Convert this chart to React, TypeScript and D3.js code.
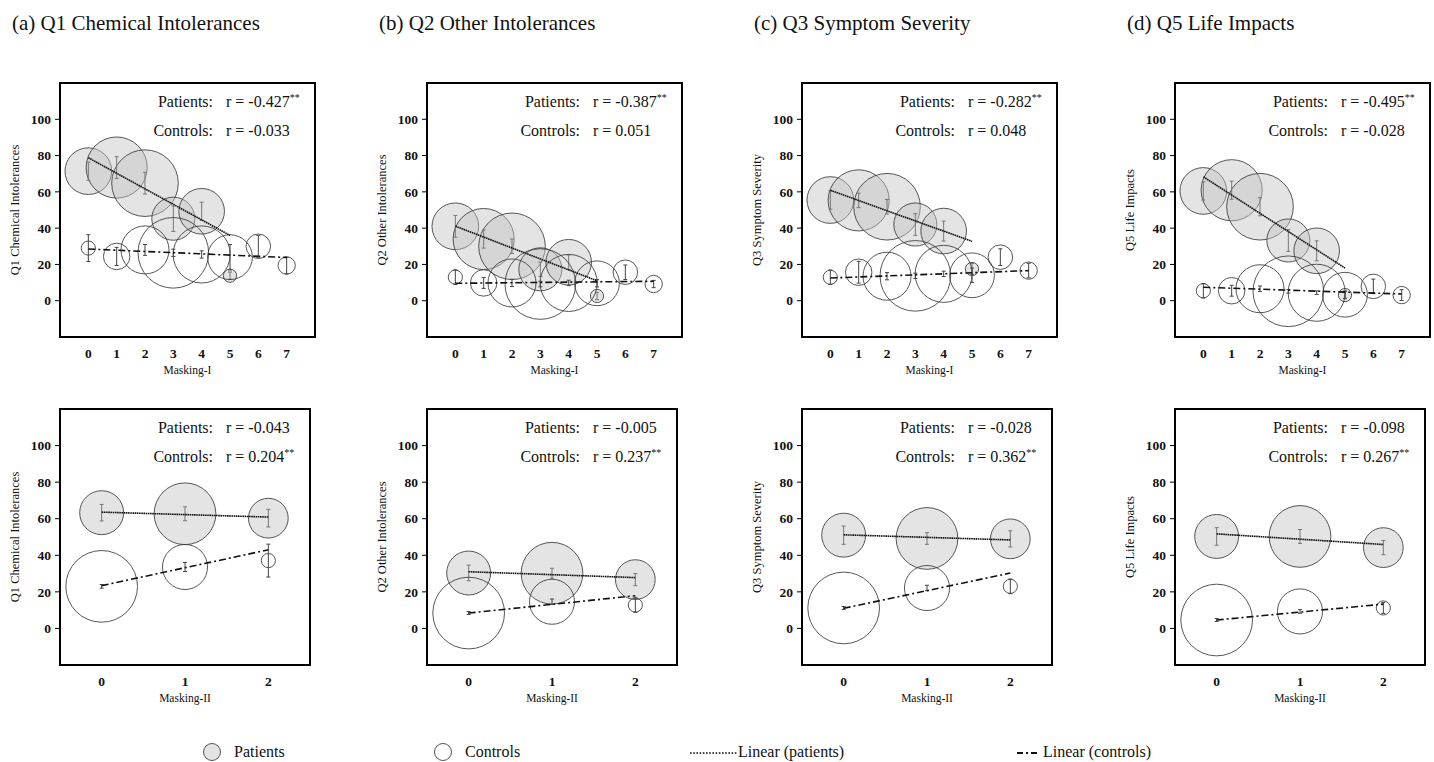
import * as d3 from "d3";

const FONT = "'Liberation Serif', 'DejaVu Serif', serif";

// axis ticks
const maskingITicks = [0, 1, 2, 3, 4, 5, 6, 7];
const maskingIITicks = [0, 1, 2];
const yTicks = [0, 20, 40, 60, 80, 100];

// group levels
const patientLevelsI = [0, 1, 2, 3, 4, 5];
const controlLevelsI = [0, 1, 2, 3, 4, 5, 6, 7];
const levelsII = [0, 1, 2];

// relative group sizes (bubble area)
const patientSizeI = [87, 149, 177, 74, 83, 7];
const controlSizeI = [8, 28, 92, 199, 130, 80, 24, 12];
const patientSizeII = [77, 152, 63];
const controlSizeII = [205, 81, 8];

const titles = ["(a) Q1 Chemical Intolerances", "(b) Q2 Other Intolerances", "(c) Q3 Symptom Severity", "(d) Q5 Life Impacts"];
const yLabels = ["Q1 Chemical Intolerances", "Q2 Other Intolerances", "Q3 Symptom Severity", "Q5 Life Impacts"];

// Masking-I means / error half-widths
const q1PatMeanI = [71.4, 73.4, 64.8, 45.2, 49.3, 13.8];
const q1PatErrI = [5, 6, 6, 7, 5, 2];
const q1CtlMeanI = [29, 24.4, 28, 26.4, 25.5, 24, 30, 19.4];
const q1CtlErrI = [7.4, 5, 3, 2, 2, 7, 6, 4.6];
const q2PatMeanI = [41, 34, 30, 17.3, 21.2, 2.6];
const q2PatErrI = [6, 5, 4, 4, 4, 2];
const q2CtlMeanI = [13, 9.8, 9.8, 9.2, 9.8, 9.6, 15.7, 9.2];
const q2CtlErrI = [4, 3, 2, 1.5, 1.5, 2, 4, 2];
const q3PatMeanI = [55.5, 55.3, 51.8, 42, 38.4, 17.5];
const q3PatErrI = [5, 4, 4, 6, 5.5, 3];
const q3CtlMeanI = [12.9, 15.7, 13.5, 13.7, 14.8, 14, 24, 16.6];
const q3CtlErrI = [4, 6, 2, 1.5, 1.5, 4, 4.6, 4];
const q5PatMeanI = [60.5, 60.9, 51.8, 33.2, 27.5, 3.1];
const q5PatErrI = [5, 5, 5, 6, 5.5, 2];
const q5CtlMeanI = [5.5, 5.5, 6.6, 5.2, 4.4, 3.3, 7.9, 3.1];
const q5CtlErrI = [4, 3, 1.5, 1, 1, 2, 4, 3];

// Masking-II means / error half-widths
const q1PatMeanII = [63.3, 62.7, 60.3];
const q1PatErrII = [4.5, 3.8, 4.8];
const q1CtlMeanII = [23, 33.6, 37.1];
const q1CtlErrII = [1, 2.5, 9];
const q2PatMeanII = [30.3, 30.2, 26.7];
const q2PatErrII = [4.3, 2.7, 3.3];
const q2CtlMeanII = [8.4, 14.6, 12.8];
const q2CtlErrII = [0.8, 1.5, 4];
const q3PatMeanII = [51, 49.2, 49];
const q3PatErrII = [5, 3.2, 4.4];
const q3CtlMeanII = [11.2, 22.1, 23];
const q3CtlErrII = [0.8, 1.5, 4];
const q5PatMeanII = [50.3, 50.3, 44.2];
const q5PatErrII = [4.8, 3.8, 3.9];
const q5CtlMeanII = [4.6, 9.3, 11.2];
const q5CtlErrII = [0.8, 1, 3];

// linear trend endpoints (value at first and last level)
const patTrendI = [[78.8, 36.0], [41.1, 11], [60.9, 32.7], [68.3, 18]];
const ctlTrendI = [[28.5, 23.8], [9.6, 10.7], [12.5, 16.6], [7.4, 3.7]];
const patTrendII = [[63.6, 60.9], [31, 27.8], [51.2, 48.4], [51.7, 45.9]];
const ctlTrendII = [[23.4, 43], [8.4, 17.9], [11, 30.3], [4.6, 13.3]];

// correlation annotations
const rPatI = ["-0.427", "-0.387", "-0.282", "-0.495"];
const sigPatI = [true, true, true, true];
const rCtlI = ["-0.033", "0.051", "0.048", "-0.028"];
const sigCtlI = [false, false, false, false];
const rPatII = ["-0.043", "-0.005", "-0.028", "-0.098"];
const sigPatII = [false, false, false, false];
const rCtlII = ["0.204", "0.237", "0.362", "0.267"];
const sigCtlII = [true, true, true, true];

const patMeansI = [q1PatMeanI, q2PatMeanI, q3PatMeanI, q5PatMeanI];
const patErrsI = [q1PatErrI, q2PatErrI, q3PatErrI, q5PatErrI];
const ctlMeansI = [q1CtlMeanI, q2CtlMeanI, q3CtlMeanI, q5CtlMeanI];
const ctlErrsI = [q1CtlErrI, q2CtlErrI, q3CtlErrI, q5CtlErrI];
const patMeansII = [q1PatMeanII, q2PatMeanII, q3PatMeanII, q5PatMeanII];
const patErrsII = [q1PatErrII, q2PatErrII, q3PatErrII, q5PatErrII];
const ctlMeansII = [q1CtlMeanII, q2CtlMeanII, q3CtlMeanII, q5CtlMeanII];
const ctlErrsII = [q1CtlErrII, q2CtlErrII, q3CtlErrII, q5CtlErrII];

const panelLefts = [60, 427, 802, 1175];

const sizeScale = d3.scaleSqrt().domain([0, 200]).range([0, 35.4]);

const PAT_FILL = "rgba(195,195,195,0.45)";
const STROKE = "#3a3a3a";

interface Group {
  levels: number[];
  mean: number[];
  err: number[];
  size: number[];
  trend: number[];
}

interface PanelProps {
  id: string;
  left: number;
  top: number;
  w: number;
  h: number;
  xDomain: [number, number];
  xTicks: number[];
  xLabel: string;
  yLabel: string;
  pat: Group;
  ctl: Group;
  rP: string;
  rC: string;
  sP: boolean;
  sC: boolean;
}

function Bubbles({ g, x, y, filled }: { g: Group; x: any; y: any; filled: boolean }) {
  return (
    <g>
      {g.levels.map((lv, i) => (
        <circle
          key={"c" + i}
          cx={x(lv)}
          cy={y(g.mean[i])}
          r={sizeScale(g.size[i])}
          fill={filled ? PAT_FILL : "none"}
          stroke={STROKE}
          strokeOpacity={0.85}
          strokeWidth={1}
        />
      ))}
      {g.levels.map((lv, i) => {
        const cx = x(lv);
        const y1 = y(g.mean[i] - g.err[i]);
        const y2 = y(g.mean[i] + g.err[i]);
        return (
          <g key={"e" + i} stroke={filled ? "#777" : "#444"} strokeWidth={1}>
            <line x1={cx} x2={cx} y1={y1} y2={y2} />
            <line x1={cx - 2} x2={cx + 2} y1={y1} y2={y1} />
            <line x1={cx - 2} x2={cx + 2} y1={y2} y2={y2} />
          </g>
        );
      })}
    </g>
  );
}

function T(props: any) {
  return <text fontFamily={FONT} fill="#111" {...props} />;
}

function Panel(p: PanelProps) {
  const x = d3.scaleLinear().domain(p.xDomain).range([p.left, p.left + p.w]);
  const y = d3.scaleLinear().domain([-20, 120]).range([p.top + p.h, p.top]);
  const line = d3
    .line<[number, number]>()
    .x((d) => x(d[0]))
    .y((d) => y(d[1]));
  const trendPath = (g: Group) =>
    line([
      [g.levels[0], g.trend[0]],
      [g.levels[g.levels.length - 1], g.trend[1]],
    ]) as string;

  const labX = p.left + 153;
  const valX = p.left + 166;
  return (
    <g>
      <defs>
        <clipPath id={p.id}>
          <rect x={p.left} y={p.top} width={p.w} height={p.h} />
        </clipPath>
      </defs>
      <g clipPath={`url(#${p.id})`}>
        <Bubbles g={p.pat} x={x} y={y} filled={true} />
        <Bubbles g={p.ctl} x={x} y={y} filled={false} />
        <path d={trendPath(p.pat)} fill="none" stroke="#111" strokeWidth={1.6} strokeDasharray="1.6,0.6" />
        <path d={trendPath(p.ctl)} fill="none" stroke="#111" strokeWidth={1.6} strokeDasharray="7,3,2,3" />
      </g>
      <rect x={p.left} y={p.top} width={p.w} height={p.h} fill="none" stroke="#000" strokeWidth={2} />
      {yTicks.map((t) => (
        <g key={"yt" + t}>
          <line x1={p.left - 5} x2={p.left} y1={y(t)} y2={y(t)} stroke="#000" strokeWidth={1} />
          <T x={p.left - 9} y={y(t)} dy="0.35em" textAnchor="end" fontSize={13.5} fontWeight="bold">
            {t}
          </T>
        </g>
      ))}
      {p.xTicks.map((t) => (
        <T key={"xt" + t} x={x(t)} y={p.top + p.h + 21} textAnchor="middle" fontSize={13.5} fontWeight="bold">
          {t}
        </T>
      ))}
      <T x={p.left + p.w / 2} y={p.top + p.h + 37} textAnchor="middle" fontSize={11.5}>
        {p.xLabel}
      </T>
      <T
        transform={`translate(${p.left - 41},${p.top + p.h / 2}) rotate(-90)`}
        textAnchor="middle"
        fontSize={12.5}
      >
        {p.yLabel}
      </T>
      <T x={labX} y={p.top + 24} textAnchor="end" fontSize={16}>Patients:</T>
      <T x={valX} y={p.top + 24} fontSize={16}>
        {"r = " + p.rP}
        {p.sP && <tspan dy={-6} fontSize={10}>**</tspan>}
      </T>
      <T x={labX} y={p.top + 53} textAnchor="end" fontSize={16}>Controls:</T>
      <T x={valX} y={p.top + 53} fontSize={16}>
        {"r = " + p.rC}
        {p.sC && <tspan dy={-6} fontSize={10}>**</tspan>}
      </T>
    </g>
  );
}

export default function App() {
  return (
    <svg
      width={1434}
      height={762}
      style={{ position: "absolute", left: 0, top: 0, background: "#fff", fontFamily: FONT }}
    >
      <rect width={1434} height={762} fill="#fff" />
      {titles.map((t, i) => (
        <T key={"t" + i} x={panelLefts[i] - 48} y={30} fontSize={21}>
          {t}
        </T>
      ))}
      {panelLefts.map((left, i) => (
        <Panel
          key={"top" + i}
          id={"clipTop" + i}
          left={left}
          top={83}
          w={255}
          h={254}
          xDomain={[-1, 8]}
          xTicks={maskingITicks}
          xLabel="Masking-I"
          yLabel={yLabels[i]}
          pat={{ levels: patientLevelsI, mean: patMeansI[i], err: patErrsI[i], size: patientSizeI, trend: patTrendI[i] }}
          ctl={{ levels: controlLevelsI, mean: ctlMeansI[i], err: ctlErrsI[i], size: controlSizeI, trend: ctlTrendI[i] }}
          rP={rPatI[i]}
          rC={rCtlI[i]}
          sP={sigPatI[i]}
          sC={sigCtlI[i]}
        />
      ))}
      {panelLefts.map((left, i) => (
        <Panel
          key={"bot" + i}
          id={"clipBot" + i}
          left={left}
          top={409}
          w={250}
          h={256}
          xDomain={[-0.5, 2.5]}
          xTicks={maskingIITicks}
          xLabel="Masking-II"
          yLabel={yLabels[i]}
          pat={{ levels: levelsII, mean: patMeansII[i], err: patErrsII[i], size: patientSizeII, trend: patTrendII[i] }}
          ctl={{ levels: levelsII, mean: ctlMeansII[i], err: ctlErrsII[i], size: controlSizeII, trend: ctlTrendII[i] }}
          rP={rPatII[i]}
          rC={rCtlII[i]}
          sP={sigPatII[i]}
          sC={sigCtlII[i]}
        />
      ))}
      <g>
        <circle cx={212} cy={752} r={8.5} fill="#e3e3e3" stroke="#555" strokeWidth={1} />
        <T x={234} y={757} fontSize={16}>Patients</T>
        <circle cx={443} cy={752} r={8.5} fill="none" stroke="#555" strokeWidth={1} />
        <T x={465} y={757} fontSize={16}>Controls</T>
        <line x1={690} x2={737} y1={753} y2={753} stroke="#111" strokeWidth={1.6} strokeDasharray="1.6,1.6" />
        <T x={738} y={757} fontSize={16}>Linear (patients)</T>
        <line x1={1017} x2={1039} y1={753} y2={753} stroke="#111" strokeWidth={2} strokeDasharray="6,3,2,3" />
        <T x={1043} y={757} fontSize={16}>Linear (controls)</T>
      </g>
    </svg>
  );
}
